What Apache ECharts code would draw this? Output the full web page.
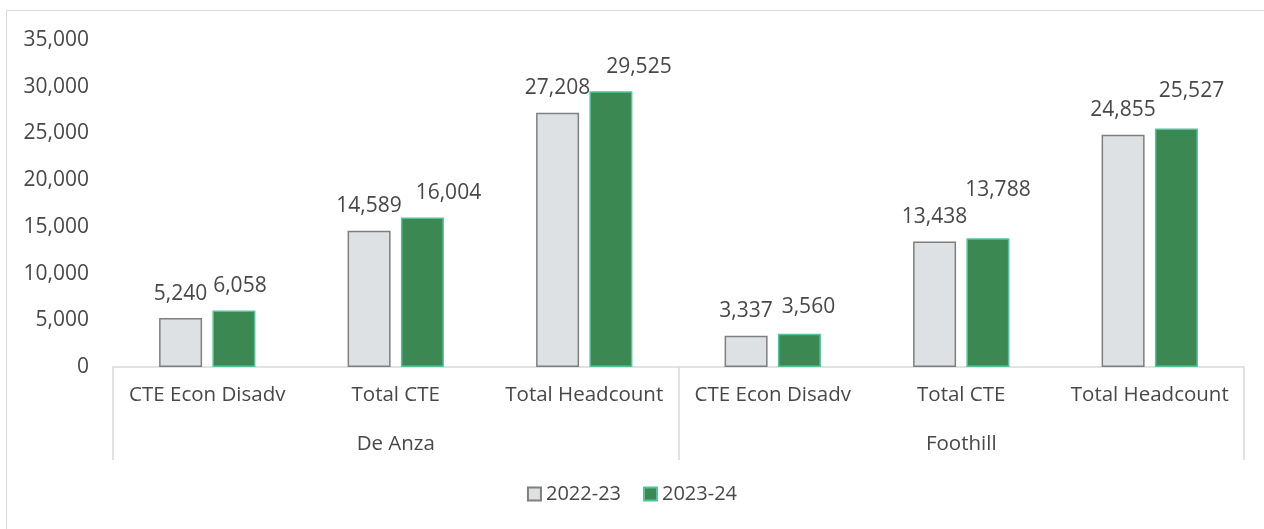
<!DOCTYPE html>
<html>
<head>
<meta charset="utf-8">
<script src="https://cdn.jsdelivr.net/npm/echarts@6/dist/echarts.min.js"></script>
<style>
  html, body { margin: 0; padding: 0; background: #fff; }
  #chart { width: 1264px; height: 529px; }
</style>
</head>
<body>
<div id="chart"></div>
<script>
// data
const categories = ['CTE Econ Disadv', 'Total CTE', 'Total Headcount', 'CTE Econ Disadv', 'Total CTE', 'Total Headcount'];
const colleges = ['De Anza', 'Foothill'];
const yearNames = ['2022-23', '2023-24'];
const values2223 = [5240, 14589, 27208, 3337, 13438, 24855];
const values2324 = [6058, 16004, 29525, 3560, 13788, 25527];
const yTicks = { min: 0, max: 35000, interval: 5000 };

// excel nudged some of the 2023-24 labels sideways / up
const labelShift2324 = [[6, 0], [26, 0], [28, 0], [9, -2], [10, -24], [15, -13]];

const textColor = '#484848';
const fontFamily = '"Open Sans", sans-serif';

function withShift(vals, shifts) {
  return vals.map((v, i) => ({ value: v, label: { offset: shifts[i] } }));
}

const chart = echarts.init(document.getElementById('chart'));

const barLabel = {
  show: true,
  position: 'top',
  distance: 14,
  color: textColor,
  fontSize: 21,
  fontFamily: fontFamily,
  formatter: (p) => p.value.toLocaleString('en-US')
};

chart.setOption({
  animation: false,
  textStyle: { fontFamily: fontFamily },
  graphic: [{
    type: 'rect',
    shape: { x: 6.5, y: 10.5, width: 1300, height: 600 },
    style: { fill: 'none', stroke: '#d9d9d9', lineWidth: 1 },
    silent: true
  }],
  grid: { left: 113, right: 20, top: 40, bottom: 162 },
  legend: {
    bottom: 20,
    left: 'center',
    icon: 'rect',
    itemWidth: 13,
    itemHeight: 13,
    itemGap: 22,
    textStyle: { color: textColor, fontSize: 20, fontFamily: fontFamily },
    data: yearNames
  },
  xAxis: [
    {
      type: 'category',
      data: categories,
      axisLine: { lineStyle: { color: '#d9d9d9', width: 1.5 } },
      axisTick: { show: false },
      axisLabel: { color: textColor, fontSize: 20.5, margin: 18, interval: 0 }
    },
    {
      type: 'category',
      data: colleges,
      position: 'bottom',
      axisLine: { show: false },
      axisTick: { show: true, length: 93, lineStyle: { color: '#d9d9d9', width: 1.5 } },
      axisLabel: { color: textColor, fontSize: 20.5, margin: 67 }
    }
  ],
  yAxis: {
    type: 'value',
    min: yTicks.min,
    max: yTicks.max,
    interval: yTicks.interval,
    splitLine: { show: false },
    axisLine: { show: false },
    axisLabel: {
      color: textColor,
      fontSize: 21,
      margin: 24,
      formatter: (v) => v.toLocaleString('en-US')
    }
  },
  series: [
    {
      name: yearNames[0],
      type: 'bar',
      xAxisIndex: 0,
      data: values2223,
      barWidth: 43,
      barGap: '24%',
      itemStyle: { color: '#dee1e4', borderColor: '#7f7f7f', borderWidth: 1.5 },
      label: barLabel
    },
    {
      name: yearNames[1],
      type: 'bar',
      xAxisIndex: 0,
      data: withShift(values2324, labelShift2324),
      barWidth: 43,
      barGap: '24%',
      itemStyle: { color: '#3c8853', borderColor: '#52c39b', borderWidth: 1.5 },
      label: barLabel
    }
  ]
});
</script>
</body>
</html>
